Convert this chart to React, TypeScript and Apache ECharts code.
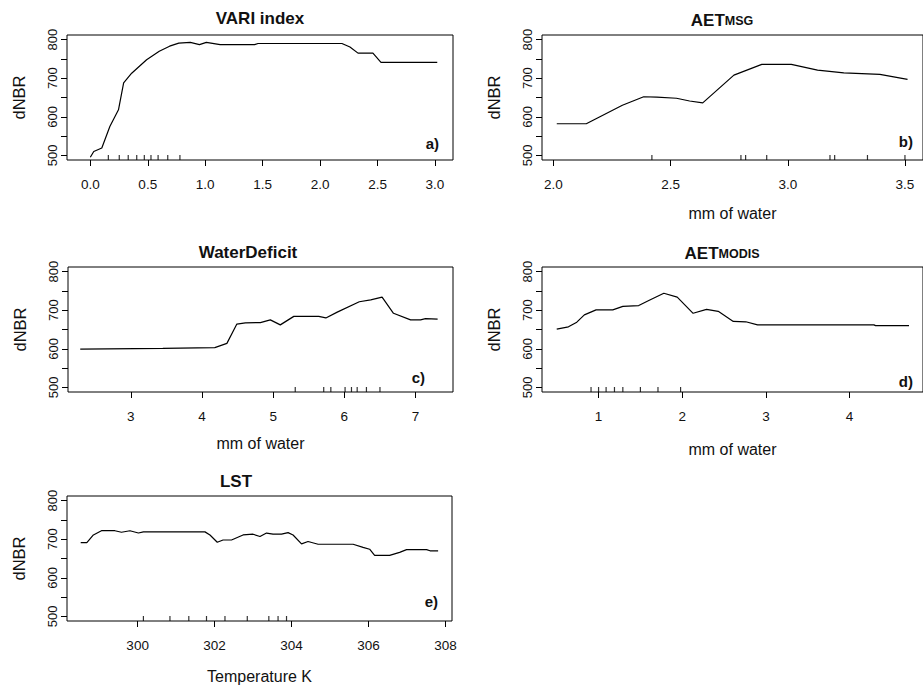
import React, { useEffect, useRef } from "react";
import * as echarts from "echarts";

// ---- Data ----
// a) VARI index
const variX = [0, 0.03, 0.1, 0.17, 0.245, 0.29, 0.36, 0.49, 0.6, 0.69, 0.77, 0.87, 0.95, 1.01, 1.05, 1.13, 1.43, 1.46, 2.19, 2.26, 2.33, 2.46, 2.53, 3.02];
const variY = [495, 510, 519, 575, 618, 688, 713, 748, 770, 783, 791, 793, 787, 793, 791, 787, 787, 790, 790, 781, 765, 765, 741, 741];
const variRug = [0.157, 0.252, 0.33, 0.404, 0.47, 0.528, 0.59, 0.674, 0.78];

// b) AET MSG
const msgX = [2.014, 2.14, 2.294, 2.385, 2.441, 2.525, 2.581, 2.637, 2.77, 2.889, 3.015, 3.127, 3.239, 3.393, 3.511];
const msgY = [582, 582, 630, 652, 651, 648, 641, 636, 708, 736, 736, 721, 714, 710, 697];
const msgRug = [2.42, 2.8, 2.82, 2.91, 3.18, 3.2, 3.34, 3.5];

// c) WaterDeficit
const wdX = [2.29, 3.45, 4.18, 4.35, 4.49, 4.61, 4.82, 4.96, 5.1, 5.29, 5.64, 5.74, 5.9, 6.21, 6.37, 6.53, 6.69, 6.93, 7.07, 7.14, 7.31];
const wdY = [599, 601, 603, 614, 664, 667, 668, 675, 662, 684, 684, 680, 695, 722, 727, 734, 692, 675, 675, 678, 677];
const wdRug = [5.31, 5.71, 5.81, 6.01, 6.1, 6.18, 6.31, 6.5];

// d) AET MODIS
const modisX = [0.5, 0.64, 0.74, 0.83, 0.97, 1.17, 1.29, 1.48, 1.6, 1.78, 1.94, 2.13, 2.29, 2.43, 2.61, 2.76, 2.9, 4.29, 4.31, 4.71];
const modisY = [651, 657, 669, 688, 701, 701, 710, 712, 725, 744, 734, 692, 702, 697, 671, 670, 662, 662, 660, 660];
const modisRug = [0.91, 1.0, 1.09, 1.19, 1.29, 1.5, 1.71, 1.98];

// e) LST
const lstX = [298.52, 298.68, 298.85, 299.06, 299.41, 299.58, 299.8, 300.02, 300.15, 301.75, 301.88, 302.07, 302.22, 302.44, 302.74, 303.0, 303.18, 303.35, 303.52, 303.74, 303.91, 304.04, 304.26, 304.43, 304.69, 305.6, 305.86, 306.03, 306.16, 306.55, 306.81, 306.99, 307.51, 307.6, 307.81];
const lstY = [691, 691, 711, 722, 722, 718, 722, 716, 719, 719, 711, 692, 698, 698, 711, 713, 707, 716, 713, 713, 717, 711, 688, 694, 687, 687, 679, 674, 658, 658, 666, 673, 673, 670, 670];
const lstRug = [300.15, 300.84, 301.33, 301.79, 302.27, 302.85, 303.41, 303.65, 303.87];

// Tick values
const yTicks = [500, 550, 600, 650, 700, 750, 800];
const yTickLabels = [500, 600, 700, 800];
const variTicks = [0, 0.5, 1, 1.5, 2, 2.5, 3];
const msgTicks = [2, 2.5, 3, 3.5];
const wdTicks = [3, 4, 5, 6, 7];
const modisTicks = [1, 2, 3, 4];
const lstTicks = [300, 302, 304, 306, 308];

const FONT = "'Liberation Sans', Arial, sans-serif";
const Y_MIN = 488;
const Y_MAX = 812;

const panels = [
  { xs: variX, ys: variY, rug: variRug, ticks: variTicks, dec: 1, xmin: -0.203, xmax: 3.157, name: "", gap: 45,
    grid: { left: 67, top: 35, width: 386, height: 125 } },
  { xs: msgX, ys: msgY, rug: msgRug, ticks: msgTicks, dec: 1, xmin: 1.951, xmax: 3.577, name: "mm of water", gap: 45,
    grid: { left: 542, top: 35, width: 387, height: 125 } },
  { xs: wdX, ys: wdY, rug: wdRug, ticks: wdTicks, dec: 0, xmin: 2.118, xmax: 7.526, name: "mm of water", gap: 43,
    grid: { left: 68, top: 267, width: 385, height: 125 } },
  { xs: modisX, ys: modisY, rug: modisRug, ticks: modisTicks, dec: 0, xmin: 0.324, xmax: 4.877, name: "mm of water", gap: 49,
    grid: { left: 542, top: 267, width: 386, height: 125 } },
  { xs: lstX, ys: lstY, rug: lstRug, ticks: lstTicks, dec: 0, xmin: 298.164, xmax: 308.171, name: "Temperature K", gap: 47,
    grid: { left: 67, top: 496, width: 385, height: 125 } },
];

const titles = [
  { text: "{a|VARI index}", x: 260, y: 17.5 },
  { text: "{a|AET}{b|MSG}", x: 722, y: 19 },
  { text: "{a|WaterDeficit}", x: 248, y: 251.5 },
  { text: "{a|AET}{b|MODIS}", x: 722, y: 252 },
  { text: "{a|LST}", x: 236, y: 480.5 },
];

const letters = [
  { text: "a)", x: 439, y: 143 },
  { text: "b)", x: 913, y: 141 },
  { text: "c)", x: 425, y: 377.5 },
  { text: "d)", x: 913, y: 381 },
  { text: "e)", x: 438, y: 601 },
];

export default function App() {
  const ref = useRef<HTMLDivElement>(null);

  useEffect(() => {
    if (!ref.current) return;
    const chart = echarts.init(ref.current, null, { renderer: "svg" });

    const option: any = {
      animation: false,
      backgroundColor: "#fff",
      grid: panels.map((p) => ({
        ...p.grid,
        show: true,
        borderColor: "#000",
        borderWidth: 1,
        backgroundColor: "transparent",
        containLabel: false,
      })),
      xAxis: panels.map((p, i) => ({
        type: "value",
        gridIndex: i,
        min: p.xmin,
        max: p.xmax,
        axisLine: { show: false, onZero: false },
        splitLine: { show: false },
        axisTick: { show: true, customValues: p.ticks, length: 6, lineStyle: { color: "#000", width: 1 } },
        axisLabel: {
          customValues: p.ticks,
          formatter: (v: number) => v.toFixed(p.dec),
          margin: 17,
          fontSize: 13.5,
          color: "#111",
          fontFamily: FONT,
        },
        name: p.name,
        nameLocation: "middle",
        nameGap: p.gap,
        nameTextStyle: { fontSize: 16, color: "#111", fontFamily: FONT },
      })),
      yAxis: panels.map((p, i) => ({
        type: "value",
        gridIndex: i,
        min: Y_MIN,
        max: Y_MAX,
        axisLine: { show: false, onZero: false },
        splitLine: { show: false },
        axisTick: { show: true, customValues: yTicks, length: 6, lineStyle: { color: "#000", width: 1 } },
        axisLabel: {
          customValues: yTickLabels,
          rotate: 90,
          margin: 8,
          fontSize: 13,
          color: "#111",
          fontFamily: FONT,
        },
        name: "dNBR",
        nameLocation: "middle",
        nameRotate: 90,
        nameGap: 40,
        nameTextStyle: { fontSize: 16.5, color: "#111", fontFamily: FONT },
      })),
      series: panels.flatMap((p, i) => [
        {
          type: "line",
          xAxisIndex: i,
          yAxisIndex: i,
          data: p.xs.map((x, k) => [x, p.ys[k]]),
          symbol: "none",
          lineStyle: { color: "#000", width: 1.2 },
          silent: true,
        },
        {
          type: "scatter",
          xAxisIndex: i,
          yAxisIndex: i,
          data: p.rug.map((x) => [x, Y_MIN]),
          symbol: "rect",
          symbolSize: [1.2, 5],
          symbolOffset: [0, -2.5],
          itemStyle: { color: "#000" },
          clip: false,
          silent: true,
        },
      ]),
      graphic: [
        ...titles.map((t) => ({
          type: "text",
          x: t.x,
          y: t.y,
          style: {
            text: t.text,
            align: "center",
            verticalAlign: "middle",
            rich: {
              a: { fontSize: 17, fontWeight: "bold", fontFamily: FONT, fill: "#111", lineHeight: 19, verticalAlign: "bottom" },
              b: { fontSize: 12.5, fontWeight: "bold", fontFamily: FONT, fill: "#111", lineHeight: 19, verticalAlign: "bottom", padding: [0, 0, 1, 0] },
            },
          },
        })),
        ...letters.map((l) => ({
          type: "text",
          x: l.x,
          y: l.y,
          style: {
            text: l.text,
            align: "right",
            verticalAlign: "middle",
            fontSize: 15,
            fontWeight: "bold",
            fontFamily: FONT,
            fill: "#111",
          },
        })),
      ],
    };

    chart.setOption(option);
    return () => chart.dispose();
  }, []);

  return (
    <div
      ref={ref}
      style={{ position: "absolute", left: 0, top: 0, width: 923, height: 692 }}
    />
  );
}
